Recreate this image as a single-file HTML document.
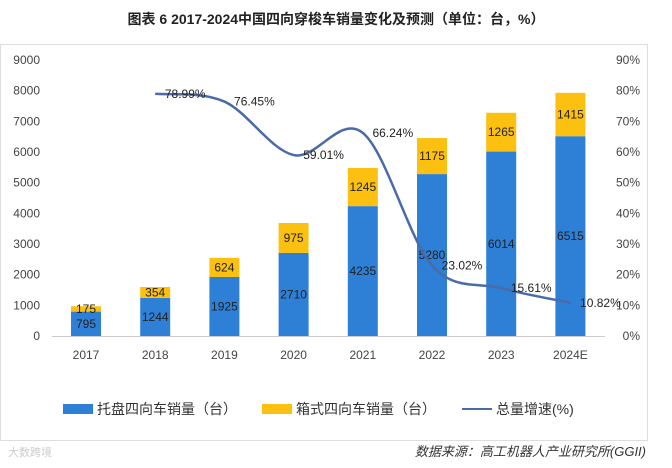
<!DOCTYPE html>
<html><head><meta charset="utf-8">
<style>
body{margin:0;background:#fff;width:672px;height:463px;overflow:hidden;font-family:"Liberation Sans","Noto Sans CJK SC",sans-serif;}
svg text{font-family:"Liberation Sans","Noto Sans CJK SC",sans-serif;}
</style></head>
<body>
<svg id="c" width="672" height="463">
<text x="336" y="24" text-anchor="middle" font-size="14" font-weight="bold" fill="#222" font-family="'Liberation Serif','Noto Serif CJK SC',serif">图表 6  2017-2024中国四向穿梭车销量变化及预测（单位：台，%）</text>
<rect x="0.5" y="44.5" width="647" height="396" fill="none" stroke="#ddd"/>
<g id="g"></g>
<text x="646" y="456" text-anchor="end" font-size="13" fill="#333" font-style="italic" font-family="'Noto Sans CJK SC',sans-serif">数据来源：高工机器人产业研究所(GGII)</text>
<text x="8" y="456" font-size="11" fill="#ccc">大数跨境</text>
</svg>
<script>
const categories=["2017","2018","2019","2020","2021","2022","2023","2024E"];
const pallet=[795,1244,1925,2710,4235,5280,6014,6515];
const box=[175,354,624,975,1245,1175,1265,1415];
const growth=[null,78.99,76.45,59.01,66.24,23.02,15.61,10.82];
const leftTicks=[0,1000,2000,3000,4000,5000,6000,7000,8000,9000];
const rightTicks=[0,10,20,30,40,50,60,70,80,90];
const NS="http://www.w3.org/2000/svg";
const g=document.getElementById('g');
const y0=336,y1=60;
const yL=v=>y0-(v/9000)*(y0-y1);
const yR=v=>y0-(v/90)*(y0-y1);
const xC=i=>86+i*69.2;
function el(t,a,txt){const e=document.createElementNS(NS,t);for(const k in a)e.setAttribute(k,a[k]);if(txt!=null)e.textContent=txt;g.appendChild(e);return e;}
leftTicks.forEach(v=>{const e=el('text',{x:40,y:yL(v)+4,'text-anchor':'end','font-size':12,fill:'#444'},v);

});
rightTicks.forEach(v=>{const e=el('text',{x:640,y:yR(v)+4,'text-anchor':'end','font-size':12,fill:'#444'},v+'%');

});
const ax=el('line',{x1:52,x2:605,y1:y0+0.5,y2:y0+0.5,stroke:'#ccc'});


const bw=30;
categories.forEach((c,i)=>{
 const x=xC(i)-bw/2;
 const b1=el('rect',{x:x,y:yL(pallet[i]),width:bw,height:y0-yL(pallet[i]),fill:'#2e7fd6'});
 
 
 const b2=el('rect',{x:x,y:yL(pallet[i]+box[i]),width:bw,height:yL(pallet[i])-yL(pallet[i]+box[i]),fill:'#fcc010'});
 
 
 const t1=el('text',{x:xC(i),y:(yL(pallet[i])+y0)/2+4,'text-anchor':'middle','font-size':12,fill:'#222'},pallet[i]);
 
 
 const t2=el('text',{x:xC(i),y:(yL(pallet[i])+yL(pallet[i]+box[i]))/2+4,'text-anchor':'middle','font-size':12,fill:'#222'},box[i]);
 
 
 const tx=el('text',{x:xC(i),y:359,'text-anchor':'middle','font-size':12,fill:'#444'},c);
 
 
});
const pts=[];growth.forEach((v,i)=>{if(v!=null)pts.push([xC(i),yR(v)]);});
let d='M'+pts[0][0]+','+pts[0][1];
for(let i=0;i<pts.length-1;i++){const p0=pts[Math.max(0,i-1)],p1=pts[i],p2=pts[i+1],p3=pts[Math.min(pts.length-1,i+2)];
 d+=` C${p1[0]+(p2[0]-p0[0])/6},${p1[1]+(p2[1]-p0[1])/6} ${p2[0]-(p3[0]-p1[0])/6},${p2[1]-(p3[1]-p1[1])/6} ${p2[0]},${p2[1]}`;}
const ln=el('path',{d:d,fill:'none',stroke:'#4a6aa8','stroke-width':2.5});


growth.forEach((v,i)=>{if(v==null)return;
 const t=el('text',{x:xC(i)+30,y:yR(v)+4,'text-anchor':'middle','font-size':12,fill:'#222'},v.toFixed(2)+'%');
 
 });
const lg=[["rect","#2e7fd6","托盘四向车销量（台）",63],["rect","#fcc010","箱式四向车销量（台）",262],["line","#4a6aa8","总量增速(%)",462]];
lg.forEach(l=>{
 let m;
 if(l[0]=="rect")m=el('rect',{x:l[3],y:404,width:30,height:10,fill:l[1]});
 else m=el('line',{x1:l[3],x2:l[3]+30,y1:409,y2:409,stroke:l[1],'stroke-width':2});
 
 
 const t=el('text',{x:l[3]+34,y:414,'font-size':14,fill:'#333'},l[2]);
 
 
});
</script>
</body></html>
